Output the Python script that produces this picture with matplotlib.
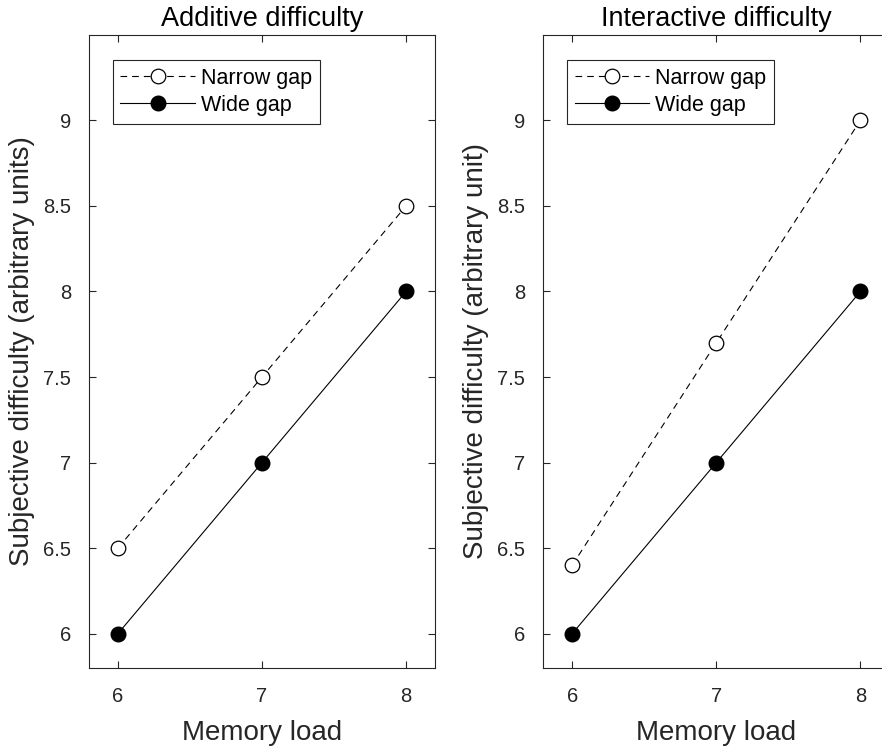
import matplotlib
matplotlib.use("Agg")
import matplotlib.pyplot as plt
from matplotlib.ticker import FuncFormatter

plt.rcParams['font.family'] = ['Liberation Sans', 'DejaVu Sans']

memory_load = [6, 7, 8]
additive_narrow = [6.5, 7.5, 8.5]
additive_wide = [6.0, 7.0, 8.0]
interactive_narrow = [6.4, 7.7, 9.0]
interactive_wide = [6.0, 7.0, 8.0]

titles = ["Additive difficulty", "Interactive difficulty"]
ylabels = ["Subjective difficulty (arbitrary units)",
           "Subjective difficulty (arbitrary unit)"]
yticks = [6, 6.5, 7, 7.5, 8, 8.5, 9]

ink = '#262626'
fig = plt.figure(figsize=(8.82, 7.49), dpi=100)
ax1 = fig.add_axes([89 / 882, 81 / 749, 346 / 882, 633.3 / 749])
ax2 = fig.add_axes([543.3 / 882, 81 / 749, 346 / 882, 633.3 / 749])

panels = [(ax1, additive_narrow, additive_wide),
          (ax2, interactive_narrow, interactive_wide)]

for i, (ax, narrow, wide) in enumerate(panels):
    ax.plot(memory_load, narrow, color='black', lw=0.8, dashes=(6, 4.5),
            marker='o', ms=10.5, mfc='white', mec='black', mew=0.9,
            label='Narrow gap')
    ax.plot(memory_load, wide, color='black', lw=0.8,
            marker='o', ms=10.5, mfc='black', mec='black',
            label='Wide gap')
    ax.set_xlim(5.8, 8.2)
    ax.set_ylim(5.8, 9.5)
    ax.set_xticks(memory_load)
    ax.set_yticks(yticks)
    ax.yaxis.set_major_formatter(FuncFormatter(lambda v, p: f"{v:g}"))
    ax.tick_params(direction='in', top=True, right=True, length=5,
                   width=0.8, color=ink, labelcolor=ink, labelsize=14.5)
    ax.tick_params(axis='y', pad=13)
    ax.tick_params(axis='x', pad=14)
    for s in ax.spines.values():
        s.set_color(ink)
        s.set_linewidth(0.8)
    ax.set_title(titles[i], fontsize=19.5, color='black', pad=6)
    ax.set_xlabel("Memory load", fontsize=20, color=ink, labelpad=10)
    ax.set_ylabel(ylabels[i], fontsize=20, color=ink, labelpad=6)
    leg = ax.legend(loc='upper left', bbox_to_anchor=(0.069, 0.96),
                    borderaxespad=0, fontsize=15.5, handlelength=3.45,
                    handletextpad=0.3, labelspacing=0.3, borderpad=0.35,
                    fancybox=False, framealpha=1, edgecolor=ink)
    leg.get_frame().set_linewidth(0.8)
    for t in leg.get_texts():
        t.set_color('black')

# right panel runs past the figure edge
ax2.spines['right'].set_visible(False)
ax2.tick_params(right=False)

fig.savefig("out.png", dpi=100)
